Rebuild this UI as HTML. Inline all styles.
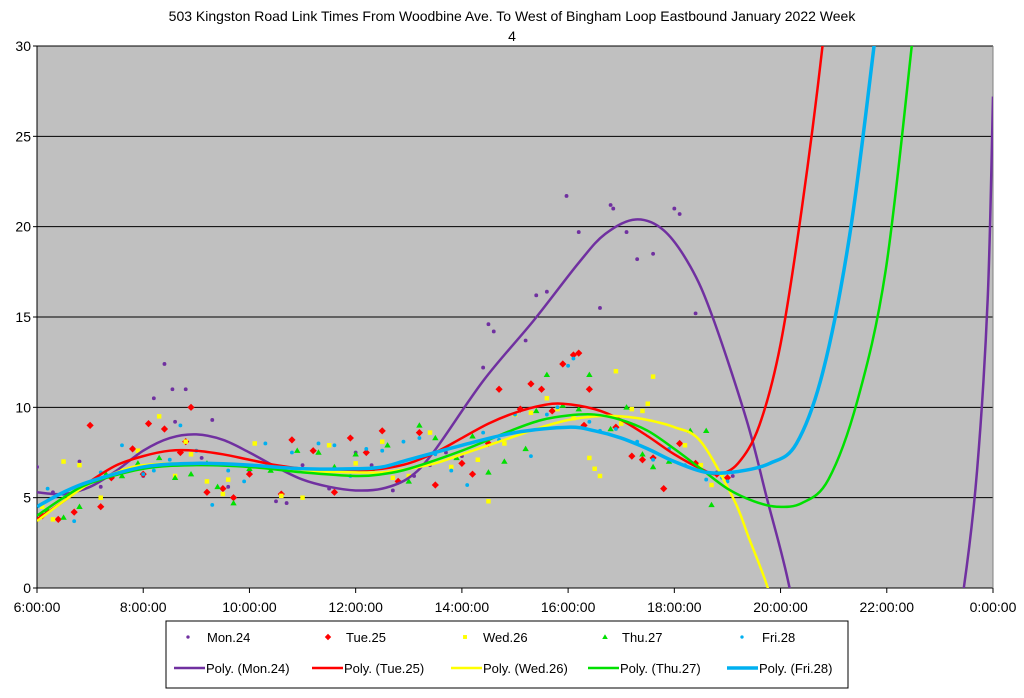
<!DOCTYPE html>
<html><head><meta charset="utf-8"><style>
body{margin:0;background:#fff;font-family:"Liberation Sans",sans-serif}
svg text{font-family:"Liberation Sans",sans-serif}
</style></head><body>
<svg id="chart" width="1024" height="693" xmlns="http://www.w3.org/2000/svg">
<defs><clipPath id="pc"><rect x="37" y="46" width="956" height="542"/></clipPath></defs>
<rect width="1024" height="693" fill="#fff"/>
<text x="512" y="21" font-size="14" text-anchor="middle">503 Kingston Road Link Times From Woodbine Ave. To West of Bingham Loop Eastbound January 2022  Week</text>
<text x="512" y="41" font-size="14" text-anchor="middle">4</text>
<rect x="37" y="46" width="956" height="542" fill="#c0c0c0"/>
<g id="grid"></g><g id="axes"></g>
<g id="series" clip-path="url(#pc)"></g>
<g id="legend"></g>
</svg>
<script>
const xTicks=[6,8,10,12,14,16,18,20,22,24];
const xTickLabels=["6:00:00","8:00:00","10:00:00","12:00:00","14:00:00","16:00:00","18:00:00","20:00:00","22:00:00","0:00:00"];
const yTicks=[0,5,10,15,20,25,30];
const seriesNames=["Mon.24","Tue.25","Wed.26","Thu.27","Fri.28"];
const colors=["#7030a0","#ff0000","#ffff00","#00e000","#00b0f0"];
const monPts=[[6.0,6.7],[6.3,5.3],[6.6,5.2],[6.8,7.0],[7.2,5.6],[7.6,6.5],[8.0,6.2],[8.2,10.5],[8.4,12.4],[8.55,11.0],[8.8,11.0],[8.6,9.2],[9.3,9.3],[9.1,7.2],[9.6,5.6],[10.0,6.5],[10.5,4.8],[10.7,4.7],[11.0,6.8],[11.5,5.5],[12.0,7.5],[12.3,6.8],[12.7,5.4],[13.1,6.2],[13.4,6.8],[13.7,7.5],[14.0,7.3],[14.4,12.2],[14.5,14.6],[14.6,14.2],[15.2,13.7],[15.4,16.2],[15.6,16.4],[15.97,21.7],[16.2,19.7],[16.6,15.5],[16.8,21.2],[16.85,21.0],[17.1,19.7],[17.3,18.2],[17.6,18.5],[18.0,21.0],[18.1,20.7],[18.4,15.2],[18.8,6.4],[19.1,6.2]];
const tuePts=[[6.1,4.0],[6.4,3.8],[6.7,4.2],[7.0,9.0],[7.2,4.5],[7.4,6.1],[7.8,7.7],[8.0,6.3],[8.1,9.1],[8.4,8.8],[8.7,7.5],[8.9,10.0],[8.8,8.1],[9.2,5.3],[9.5,5.5],[9.7,5.0],[10.0,6.3],[10.6,5.2],[10.8,8.2],[11.2,7.6],[11.6,5.3],[11.9,8.3],[12.2,7.5],[12.5,8.7],[12.8,5.9],[13.2,8.6],[13.5,5.7],[14.0,6.9],[14.2,6.3],[14.5,8.0],[14.7,11.0],[15.1,9.9],[15.3,11.3],[15.5,11.0],[15.7,9.8],[15.9,12.4],[16.1,12.9],[16.2,13.0],[16.4,11.0],[16.3,9.0],[16.9,8.9],[17.2,7.3],[17.4,7.1],[17.6,7.2],[17.8,5.5],[18.1,8.0],[18.4,6.9],[18.8,6.3],[19.0,6.1]];
const wedPts=[[6.1,4.5],[6.3,3.8],[6.5,7.0],[6.8,6.8],[7.2,5.0],[7.6,6.5],[7.9,7.6],[8.3,9.5],[8.6,6.2],[8.8,8.1],[8.9,7.4],[9.2,5.9],[9.5,5.2],[9.6,6.0],[10.1,8.0],[10.6,5.1],[11.0,5.0],[11.5,7.9],[12.0,6.9],[12.5,8.1],[12.7,6.1],[13.0,6.2],[13.4,8.6],[13.8,6.7],[14.3,7.1],[14.5,4.8],[14.8,8.0],[15.0,9.6],[15.3,9.7],[15.6,10.5],[15.8,9.9],[16.1,9.4],[16.4,7.2],[16.5,6.6],[16.6,6.2],[16.9,12.0],[17.0,9.1],[17.2,9.9],[17.4,9.8],[17.5,10.2],[17.6,11.7],[18.2,7.9],[18.5,6.8],[18.7,5.7],[18.9,6.3]];
const thuPts=[[6.2,4.3],[6.5,3.9],[6.8,4.5],[7.3,6.3],[7.6,6.2],[7.9,6.9],[8.3,7.2],[8.6,6.1],[8.9,6.3],[9.2,6.9],[9.4,5.6],[9.7,4.7],[10.0,6.6],[10.4,6.5],[10.9,7.6],[11.3,7.5],[11.6,6.7],[12.0,7.4],[12.3,6.6],[12.6,7.9],[13.0,5.9],[13.2,9.0],[13.5,8.3],[13.9,7.2],[14.2,8.4],[14.5,6.4],[14.8,7.0],[15.2,7.7],[15.4,9.8],[15.6,11.8],[15.9,10.1],[16.2,9.9],[16.4,11.8],[16.8,8.8],[17.1,10.0],[17.4,7.4],[17.6,6.7],[17.9,7.0],[18.3,8.7],[18.6,8.7],[18.7,4.6]];
const friPts=[[6.2,5.5],[6.5,5.2],[6.7,3.7],[6.9,5.6],[7.2,6.4],[7.6,7.9],[8.0,6.3],[8.2,6.5],[8.5,7.1],[8.7,9.0],[9.0,7.6],[9.3,4.6],[9.6,6.5],[9.9,5.9],[10.3,8.0],[10.8,7.5],[11.3,8.0],[11.6,7.9],[11.9,6.2],[12.2,7.7],[12.5,7.6],[12.9,8.1],[13.2,8.3],[13.5,7.4],[13.8,6.5],[14.1,5.7],[14.4,8.6],[14.7,8.2],[15.0,9.6],[15.3,7.3],[15.6,9.6],[15.8,10.0],[16.0,12.3],[16.1,12.7],[16.4,9.2],[16.6,8.7],[16.9,8.8],[17.3,8.1],[17.6,7.1],[17.9,7.7],[18.2,6.8],[18.6,6.0],[18.9,6.1],[19.0,5.9]];
const monFit=[[6,5.3],[6.5,5.2],[7,5.6],[7.5,6.5],[8,7.6],[8.5,8.3],[9,8.5],[9.5,8.2],[10,7.5],[10.5,6.7],[11,6.0],[11.5,5.6],[12,5.4],[12.5,5.5],[13,6.1],[13.46,7.5],[14.41,11.5],[15.35,14.8],[16.2,18.0],[16.7,19.6],[17.27,20.4],[17.8,19.8],[18.3,17.8],[18.72,15.0],[19.36,9.3],[19.74,5],[20.17,0],[20.5,-6],[23.1,-6],[23.45,0],[23.7,6.5],[23.9,16],[24,27.2]];
const tueFit=[[6,3.8],[6.5,4.8],[7,5.9],[7.5,6.8],[8,7.3],[8.5,7.6],[9,7.6],[9.5,7.4],[10,7.1],[10.5,6.8],[11,6.6],[11.5,6.5],[12,6.5],[12.5,6.6],[13,6.9],[13.5,7.5],[14,8.3],[14.5,9.1],[15,9.7],[15.5,10.1],[15.9,10.2],[16.5,9.9],[17,9.3],[17.5,8.4],[18,7.4],[18.5,6.6],[18.82,6.3],[19.2,6.9],[19.6,9.0],[20.0,13.5],[20.4,21],[20.79,30],[20.9,34]];
const wedFit=[[6,3.7],[6.5,4.8],[7,5.8],[7.5,6.4],[8,6.8],[9,6.9],[10,6.7],[11,6.5],[12,6.4],[12.5,6.4],[13,6.6],[13.5,6.9],[14,7.4],[14.5,7.9],[15,8.4],[15.5,8.9],[16,9.3],[16.5,9.5],[17,9.5],[17.5,9.3],[18,8.9],[18.5,8.1],[19.12,4.9],[19.4,2.8],[19.76,0],[19.9,-2]];
const thuFit=[[6,4.0],[6.5,5.0],[7,5.8],[8,6.6],[9,6.8],[10,6.7],[11,6.4],[12,6.2],[12.5,6.3],[13,6.6],[14,7.6],[15,8.8],[15.5,9.3],[16,9.55],[16.5,9.6],[17,9.3],[17.5,8.7],[18,7.7],[18.5,6.6],[19,5.5],[19.5,4.8],[19.93,4.5],[20.4,4.7],[20.9,6.0],[21.45,10.4],[21.98,17.6],[22.47,30],[22.6,34]];
const friFit=[[6,4.5],[6.5,5.3],[7,5.9],[8,6.7],[9,6.9],[10,6.8],[11,6.6],[12,6.6],[12.5,6.7],[13,7.1],[14,7.9],[15,8.6],[16,8.9],[16.5,8.7],[17,8.3],[17.5,7.7],[18,7.0],[18.6,6.4],[19.2,6.45],[19.8,6.9],[20.3,8.0],[20.8,12],[21.3,19.5],[21.76,30],[21.9,34]];
const scatters=[monPts,tuePts,wedPts,thuPts,friPts];
const fits=[monFit,tueFit,wedFit,thuFit,friFit];
const markers=["circle","diamond","square","triangle","circle"];

const NS="http://www.w3.org/2000/svg";
const X0=37,X1=993,Y0=588,Y1=46;
const xs=h=>X0+(h-6)/18*(X1-X0);
const ys=v=>Y0-v/30*(Y0-Y1);
function mk(tag,attrs,parent){const e=document.createElementNS(NS,tag);for(const k in attrs)e.setAttribute(k,attrs[k]);parent.appendChild(e);return e;}
const grid=document.getElementById('grid'),axes=document.getElementById('axes'),ser=document.getElementById('series'),leg=document.getElementById('legend');
yTicks.forEach(v=>{
  if(v>0){const l=mk('line',{x1:X0,x2:X1,y1:ys(v),y2:ys(v),stroke:'#000','stroke-width':1},grid);
  
  }
  const tk=mk('line',{x1:X0-4,x2:X0,y1:ys(v),y2:ys(v),stroke:'#000'},axes);
  
  
  const t=mk('text',{x:X0-6,y:ys(v)+5,'font-size':14,'text-anchor':'end'},axes);t.textContent=v;
  
  
});
xTicks.forEach((h,i)=>{
  const tk=mk('line',{x1:xs(h),x2:xs(h),y1:Y0,y2:Y0+5,stroke:'#000'},axes);
  
  
  const t=mk('text',{x:xs(h),y:Y0+24,'font-size':14,'text-anchor':'middle'},axes);t.textContent=xTickLabels[i];
  
  
});
const ax=mk('path',{d:`M${X0} ${Y1}V${Y0}H${X1}`,fill:'none',stroke:'#000'},axes);


const ax2=mk('path',{d:`M${X1} ${Y1}V${Y0}`,fill:'none',stroke:'#808080'},axes);


function smooth(pts){const p=pts.map(a=>[xs(a[0]),ys(a[1])]);let d=`M${p[0][0]} ${p[0][1]}`;
 for(let i=0;i<p.length-1;i++){const a=p[i-1]||p[i],b=p[i],c=p[i+1],e=p[i+2]||c;
 d+=`C${b[0]+(c[0]-a[0])/6} ${b[1]+(c[1]-a[1])/6} ${c[0]-(e[0]-b[0])/6} ${c[1]-(e[1]-b[1])/6} ${c[0]} ${c[1]}`;}return d;}
function marker(type,cx,cy,col,parent,s){
 if(type==='circle')return mk('circle',{cx,cy,r:s*0.6,fill:col},parent);
 if(type==='diamond')return mk('path',{d:`M${cx} ${cy-s}L${cx+s} ${cy}L${cx} ${cy+s}L${cx-s} ${cy}Z`,fill:col},parent);
 if(type==='square')return mk('rect',{x:cx-s*0.7,y:cy-s*0.7,width:s*1.4,height:s*1.4,fill:col},parent);
 return mk('path',{d:`M${cx} ${cy-s}L${cx+s} ${cy+s*0.7}L${cx-s} ${cy+s*0.7}Z`,fill:col},parent);}
scatters.forEach((pts,si)=>{pts.forEach(pt=>{
  const m=marker(markers[si],xs(pt[0]),ys(pt[1]),colors[si],ser,si===1?3.6:3.2);
  
  
});});
fits.forEach((pts,si)=>{
  const p=mk('path',{d:smooth(pts),fill:'none',stroke:colors[si],'stroke-width':si===4?3.5:2.5},ser);
  
  
});
const box=mk('rect',{x:166,y:621,width:682,height:67,fill:'#fff',stroke:'#000'},leg);


const row1X=[188,328,465,605,742],row1T=[207,346,483,622,762],row2X=[174,312,451,588,727];
seriesNames.forEach((n,i)=>{
  const m=marker(markers[i],row1X[i],637,colors[i],leg,i===1?3.2:2.8);
  
  
  const t=mk('text',{x:row1T[i],y:642,'font-size':13},leg);t.textContent=n;
  
  
  const l=mk('line',{x1:row2X[i],x2:row2X[i]+31,y1:668,y2:668,stroke:colors[i],'stroke-width':i===4?3.5:2.5},leg);
  
  
  const t2=mk('text',{x:row2X[i]+32,y:673,'font-size':13},leg);t2.textContent='Poly. ('+n+')';
  
  
});
</script>
</body></html>
